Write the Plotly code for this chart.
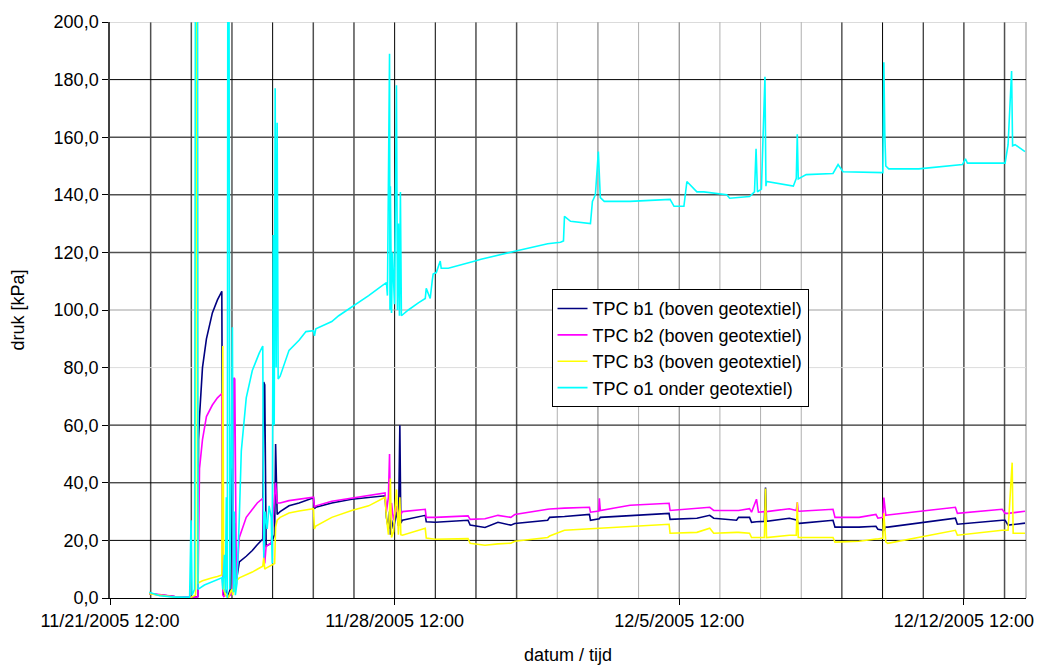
import plotly.graph_objects as go

# ---------------- data ----------------
series_names = [
    "TPC b1 (boven geotextiel)",
    "TPC b2 (boven geotextiel)",
    "TPC b3 (boven geotextiel)",
    "TPC o1 onder geotextiel)",
]

times_b = [
    "2005-11-22 11:10", "2005-11-22 17:20", "2005-11-23 02:10", "2005-11-23 11:00",
    "2005-11-23 14:30", "2005-11-23 14:45", "2005-11-23 15:20", "2005-11-23 15:55",
    "2005-11-23 16:15", "2005-11-23 16:50", "2005-11-23 18:35", "2005-11-23 20:55",
    "2005-11-24 00:25", "2005-11-24 03:25", "2005-11-24 06:00", "2005-11-24 06:35",
    "2005-11-24 07:10", "2005-11-24 08:05", "2005-11-24 09:50", "2005-11-24 11:00",
    "2005-11-24 11:55", "2005-11-24 12:30", "2005-11-24 13:05", "2005-11-24 13:40",
    "2005-11-24 14:35", "2005-11-24 16:20", "2005-11-24 20:25", "2005-11-25 00:00",
    "2005-11-25 02:55", "2005-11-25 06:10", "2005-11-25 06:45", "2005-11-25 07:20",
    "2005-11-25 08:10", "2005-11-25 11:10", "2005-11-25 13:10", "2005-11-25 13:45",
    "2005-11-25 14:40", "2005-11-25 16:25", "2005-11-25 21:40", "2005-11-26 03:35",
    "2005-11-26 12:05", "2005-11-26 12:40", "2005-11-26 13:30", "2005-11-26 22:55",
    "2005-11-27 10:40", "2005-11-27 20:40", "2005-11-28 06:20", "2005-11-28 07:10",
    "2005-11-28 08:20", "2005-11-28 09:00", "2005-11-28 09:30", "2005-11-28 10:10",
    "2005-11-28 11:20", "2005-11-28 13:05", "2005-11-28 14:15", "2005-11-28 15:05",
    "2005-11-28 15:40", "2005-11-28 16:35", "2005-11-29 06:05", "2005-11-29 06:40",
    "2005-11-29 12:00", "2005-11-30 07:20", "2005-11-30 08:35", "2005-11-30 17:20",
    "2005-12-01 01:00", "2005-12-01 08:35", "2005-12-01 10:55", "2005-12-02 06:20",
    "2005-12-02 07:30", "2005-12-02 16:15", "2005-12-03 07:00", "2005-12-03 07:35",
    "2005-12-03 12:30", "2005-12-03 12:50", "2005-12-03 13:25", "2005-12-04 07:00",
    "2005-12-05 06:00", "2005-12-05 06:35", "2005-12-05 22:25", "2005-12-06 06:00",
    "2005-12-06 08:20", "2005-12-06 21:50", "2005-12-06 23:00", "2005-12-07 05:30",
    "2005-12-07 06:40", "2005-12-07 09:35", "2005-12-07 10:45", "2005-12-07 14:15",
    "2005-12-07 14:55", "2005-12-07 15:30", "2005-12-08 05:00", "2005-12-08 09:05",
    "2005-12-08 09:40", "2005-12-08 10:15", "2005-12-08 10:50", "2005-12-09 06:45",
    "2005-12-09 07:55", "2005-12-09 22:05", "2005-12-10 08:05", "2005-12-10 09:15",
    "2005-12-10 12:10", "2005-12-10 12:45", "2005-12-10 13:55", "2005-12-10 15:05",
    "2005-12-12 07:00", "2005-12-12 08:10", "2005-12-13 10:35", "2005-12-13 12:20",
    "2005-12-13 14:05", "2005-12-13 16:30", "2005-12-13 17:05", "2005-12-14 00:05",
]

tpc_b1 = [
    1.5, 1.0, 0.5, 0.2,
    0.3, 0.3, 0.3, 0.5,
    55, 63, 80, 90,
    99, 103.5, 106.5, 2,
    1, 3, 1, 3,
    45, 4, 8, 26,
    6, 12.5, 14.5, 16.5,
    18.5, 20.5, 75, 74,
    18, 19, 22, 53.5,
    29, 30, 32, 33,
    34.8, 31, 31.5, 33,
    34.3, 35, 35.5, 28,
    24, 30, 22, 27,
    24, 30, 25, 60,
    26, 27, 28.7, 26.5,
    26.3, 27, 25.3, 24.5,
    26.3, 25.3, 25.9, 27,
    28, 28.3, 29, 27,
    27.3, 27.5, 28, 28.7,
    29.4, 27.3, 27.7, 28.7,
    27.7, 27, 28, 28,
    26.3, 26.5, 26.5, 26.6,
    38.4, 26.6, 27.7, 27,
    27, 25.9, 25.9, 27,
    24.6, 24.6, 24.9, 23.9,
    23.5, 23.5, 24.6, 24.6,
    27.7, 25.6, 27, 27,
    25.3, 25.5, 25.5, 26,
]

tpc_b2 = [
    1.5, 1.2, 0.5, 0.2,
    0.3, 0.3, 0.3, 0.5,
    30, 45, 55, 63,
    67, 69.5, 71, 1,
    0.5, 1, 0.5, 1,
    2, 5, 76.5, 76,
    5, 21, 28, 31,
    33, 34.6, 16, 12,
    18, 19, 38, 40,
    33, 33, 33.8, 34.3,
    35, 31.5, 32, 33.6,
    34.6, 35.5, 36.5, 30,
    35, 50, 28, 33,
    27, 32, 28, 31,
    29, 30, 30.8, 28,
    28, 28.5, 27.3, 27.5,
    28.7, 28, 29, 30.8,
    30.9, 31.2, 31.5, 29.8,
    30.2, 34.6, 30.4, 32.2,
    32.9, 30.4, 31, 31.5,
    30.4, 30.4, 30.4, 31,
    29.8, 34.3, 29.8, 30,
    30, 30, 31, 30.4,
    33.2, 30.2, 30.1, 30.8,
    28, 28, 29, 27.7,
    28, 34.9, 28.7, 28.8,
    31.5, 29.4, 30.8, 29.4,
    29.4, 29.6, 29.6, 30.1,
]

tpc_b3 = [
    1.5, 1.0, 0.3, 0,
    1, 230, 230, 5,
    5.2, 5.5, 6, 6.5,
    7, 7.5, 8, 87.5,
    3, 1, 0, 2,
    3, 1, 5, 2,
    6, 7, 8, 9,
    10, 11, 14, 10,
    10.4, 11.5, 12, 24.6,
    27, 28, 29.5, 30.2,
    31, 24, 25, 28,
    30.4, 32, 35, 28,
    22, 30, 41.5, 21,
    23, 37.7, 22, 35,
    22, 21.8, 24.2, 20.8,
    20.4, 20.6, 19, 18.3,
    18.8, 19, 19.7, 21,
    21.5, 23.5, 24, 24,
    24.2, 24.2, 24.2, 24.6,
    25.6, 22.5, 22.8, 24.2,
    22.5, 22.8, 22.8, 22.5,
    21, 21, 21, 21,
    38, 21, 21.8, 21.8,
    33.2, 21, 21, 21,
    19.4, 19.7, 20.5, 20.5,
    20.8, 29.4, 19.5, 19,
    23.5, 21.8, 23.5, 23.5,
    23.5, 47, 22.5, 22.5,
]

times_o1 = [
    "2005-11-22 11:10", "2005-11-22 17:20", "2005-11-23 02:10", "2005-11-23 11:00",
    "2005-11-23 11:50", "2005-11-23 12:25", "2005-11-23 13:55", "2005-11-23 14:30",
    "2005-11-23 15:40", "2005-11-23 15:55", "2005-11-23 19:45", "2005-11-24 01:35",
    "2005-11-24 06:00", "2005-11-24 06:35", "2005-11-24 07:30", "2005-11-24 08:05",
    "2005-11-24 08:40", "2005-11-24 09:15", "2005-11-24 09:35", "2005-11-24 10:10",
    "2005-11-24 10:25", "2005-11-24 10:45", "2005-11-24 11:35", "2005-11-24 12:15",
    "2005-11-24 12:50", "2005-11-24 13:25", "2005-11-24 14:00", "2005-11-24 14:55",
    "2005-11-24 16:20", "2005-11-24 17:30", "2005-11-24 20:25", "2005-11-25 00:00",
    "2005-11-25 04:05", "2005-11-25 06:10", "2005-11-25 06:45", "2005-11-25 07:35",
    "2005-11-25 08:45", "2005-11-25 09:55", "2005-11-25 11:10", "2005-11-25 11:45",
    "2005-11-25 12:20", "2005-11-25 12:55", "2005-11-25 13:30", "2005-11-25 14:05",
    "2005-11-25 14:40", "2005-11-25 15:15", "2005-11-25 16:25", "2005-11-25 21:40",
    "2005-11-26 03:35", "2005-11-26 07:40", "2005-11-26 12:05", "2005-11-26 12:40",
    "2005-11-26 13:30", "2005-11-26 22:55", "2005-11-27 03:00", "2005-11-27 10:40",
    "2005-11-27 20:40", "2005-11-28 04:15", "2005-11-28 07:10", "2005-11-28 07:45",
    "2005-11-28 08:20", "2005-11-28 09:00", "2005-11-28 09:15", "2005-11-28 09:30",
    "2005-11-28 10:10", "2005-11-28 10:45", "2005-11-28 11:55", "2005-11-28 12:30",
    "2005-11-28 13:05", "2005-11-28 13:40", "2005-11-28 14:15", "2005-11-28 14:50",
    "2005-11-28 15:25", "2005-11-28 16:00", "2005-11-28 20:05", "2005-11-29 02:00",
    "2005-11-29 06:05", "2005-11-29 06:40", "2005-11-29 07:50", "2005-11-29 09:00",
    "2005-11-29 10:10", "2005-11-29 10:45", "2005-11-29 12:35", "2005-11-29 14:55",
    "2005-11-29 15:30", "2005-11-29 19:40", "2005-11-30 11:30", "2005-11-30 15:00",
    "2005-12-01 10:55", "2005-12-02 06:20", "2005-12-02 13:55", "2005-12-02 15:40",
    "2005-12-02 16:15", "2005-12-02 19:50", "2005-12-03 07:35", "2005-12-03 08:45",
    "2005-12-03 10:30", "2005-12-03 12:15", "2005-12-03 13:25", "2005-12-03 15:45",
    "2005-12-04 07:00", "2005-12-05 06:35", "2005-12-05 08:55", "2005-12-05 14:45",
    "2005-12-05 16:30", "2005-12-05 22:25", "2005-12-06 02:30", "2005-12-06 16:00",
    "2005-12-06 17:45", "2005-12-07 05:30", "2005-12-07 08:25", "2005-12-07 09:20",
    "2005-12-07 10:10", "2005-12-07 12:30", "2005-12-07 14:35", "2005-12-07 15:10",
    "2005-12-07 15:30", "2005-12-08 07:20", "2005-12-08 09:05", "2005-12-08 09:40",
    "2005-12-08 10:15", "2005-12-08 14:55", "2005-12-09 06:45", "2005-12-09 09:45",
    "2005-12-09 12:40", "2005-12-10 12:10", "2005-12-10 12:45", "2005-12-10 13:20",
    "2005-12-10 13:55", "2005-12-10 15:40", "2005-12-11 09:20", "2005-12-12 11:10",
    "2005-12-12 12:55", "2005-12-12 14:05", "2005-12-13 12:20", "2005-12-13 14:05",
    "2005-12-13 16:10", "2005-12-13 16:45", "2005-12-13 18:15", "2005-12-14 00:05",
]

tpc_o1 = [
    2, 0.8, 0.3, 0.3,
    27, 1, 3, 250,
    250, 3, 4.5, 6,
    7, 3, 15, 2,
    35, 0, 250, 250,
    144, 3, 50, 94,
    2, 30, 1, 5,
    28, 51, 69.5, 79,
    85, 87.5, 14, 30,
    24, 32, 28, 12,
    126, 60, 177, 80,
    165, 76, 77, 86,
    89.5, 92.5, 92.8, 91,
    93.5, 96, 98, 101,
    105, 108.3, 109.5, 105,
    140, 189, 100, 143,
    99, 120, 102, 145,
    178, 100, 130, 98,
    141, 98, 100, 102.5,
    104, 107.5, 106, 104,
    110, 112.5, 113, 117,
    114.5, 114.5, 117, 117.6,
    120.4, 123, 123.5, 124,
    132.5, 130.8, 130, 137.7,
    140, 155, 139, 137.7,
    137.7, 138.4, 136, 136,
    144.6, 141, 141, 140,
    138.8, 139.4, 141, 156,
    141, 142, 181, 143,
    144.6, 143, 145.7, 161,
    145.5, 147, 147.4, 150.5,
    148, 147.7, 186, 161,
    150, 149, 149, 150.5,
    152.5, 151, 151, 157.4,
    183, 157, 157.4, 155,
]

y_ticks = [0, 20, 40, 60, 80, 100, 120, 140, 160, 180, 200]
x_tick_vals = ["2005-11-21 12:00", "2005-11-28 12:00", "2005-12-05 12:00", "2005-12-12 12:00"]
x_tick_text = ["11/21/2005 12:00", "11/28/2005 12:00", "12/5/2005 12:00", "12/12/2005 12:00"]
day_lines = [
    "2005-11-22 12:00", "2005-11-23 12:00", "2005-11-24 12:00", "2005-11-25 12:00",
    "2005-11-26 12:00", "2005-11-27 12:00", "2005-11-28 12:00", "2005-11-29 12:00",
    "2005-11-30 12:00", "2005-12-01 12:00", "2005-12-02 12:00", "2005-12-03 12:00",
    "2005-12-04 12:00", "2005-12-05 12:00", "2005-12-06 12:00", "2005-12-07 12:00",
    "2005-12-08 12:00", "2005-12-09 12:00", "2005-12-10 12:00", "2005-12-11 12:00",
    "2005-12-12 12:00", "2005-12-13 12:00",
]

# ---------------- styling ----------------
colors = ["#000080", "#FF00FF", "#FFFF00", "#00FFFF"]
FONT = "Liberation Sans, Arial, sans-serif"

v_styles = [
    ("#505050", 1.5), ("#505050", 1.5), ("#000000", 1), ("#000000", 1),
    ("#505050", 1.5), ("#505050", 1.5), ("#000000", 1), ("#000000", 1),
    ("#505050", 1.5), ("#505050", 1.5), ("#b0b0b0", 1), ("#8a8a8a", 1.2),
    ("#b0b0b0", 1), ("#8a8a8a", 1.2), ("#b0b0b0", 1), ("#b0b0b0", 1),
    ("#b0b0b0", 1), ("#000000", 1), ("#000000", 1), ("#000000", 1),
    ("#505050", 1.5), ("#505050", 1.5),
]
h_styles = {
    20: ("#000000", 1), 40: ("#000000", 1), 60: ("#303030", 1.3),
    80: ("#dcdcdc", 1), 100: ("#a0a0a0", 1), 120: ("#505050", 1.5),
    140: ("#505050", 1.5), 160: ("#505050", 1.5), 180: ("#000000", 1),
    200: ("#b8b8b8", 1.2),
}

fig = go.Figure()
for name, tx, vals, col in zip(
    series_names,
    [times_b, times_b, times_b, times_o1],
    [tpc_b1, tpc_b2, tpc_b3, tpc_o1],
    colors,
):
    fig.add_trace(go.Scatter(x=tx, y=vals, mode="lines", name=name,
                             line=dict(color=col, width=1.6)))

shapes = []
for d, (c, w) in zip(day_lines, v_styles):
    shapes.append(dict(type="line", xref="x", yref="paper", x0=d, x1=d, y0=0, y1=1,
                       line=dict(color=c, width=w), layer="below"))
# right border of plot area
shapes.append(dict(type="line", xref="paper", yref="paper", x0=1, x1=1, y0=0, y1=1,
                   line=dict(color="#b0b0b0", width=1.5), layer="below"))
for v, (c, w) in h_styles.items():
    shapes.append(dict(type="line", xref="paper", yref="y", x0=0, x1=1, y0=v, y1=v,
                       line=dict(color=c, width=w), layer="below"))

fig.update_layout(
    width=1046, height=665,
    margin=dict(l=110, r=15, t=20, b=67),
    paper_bgcolor="white", plot_bgcolor="white",
    font=dict(family=FONT, size=18, color="black"),
    separators=",.",
    showlegend=True,
    legend=dict(x=0.482, y=0.536, xanchor="left", yanchor="top",
                bgcolor="white", bordercolor="black", borderwidth=1,
                font=dict(family=FONT, size=18, color="black"),
                tracegroupgap=0),
    shapes=shapes,
    annotations=[
        dict(text="druk [kPa]", xref="paper", yref="paper", x=-0.0999, y=0.5,
             xanchor="center", yanchor="middle", textangle=-90, showarrow=False,
             font=dict(family=FONT, size=18, color="black")),
        dict(text="datum / tijd", xref="paper", yref="paper", x=0.5005, y=-0.0986,
             xanchor="center", yanchor="middle", showarrow=False,
             font=dict(family=FONT, size=18, color="black")),
    ],
)
fig.update_xaxes(
    type="date", range=["2005-11-21 12:00", "2005-12-14 00:40"],
    tickvals=x_tick_vals, ticktext=x_tick_text,
    ticks="outside", ticklen=6, tickcolor="black", tickwidth=1,
    showgrid=False, zeroline=False,
    showline=True, linecolor="black", linewidth=1,
)
fig.update_yaxes(
    range=[0, 200], tickvals=y_ticks, tickformat=".1f",
    ticks="outside", ticklen=6, tickcolor="black", tickwidth=1,
    showgrid=False, zeroline=False,
    showline=True, linecolor="#404040", linewidth=1.5,
)

fig.write_html("out.html")
